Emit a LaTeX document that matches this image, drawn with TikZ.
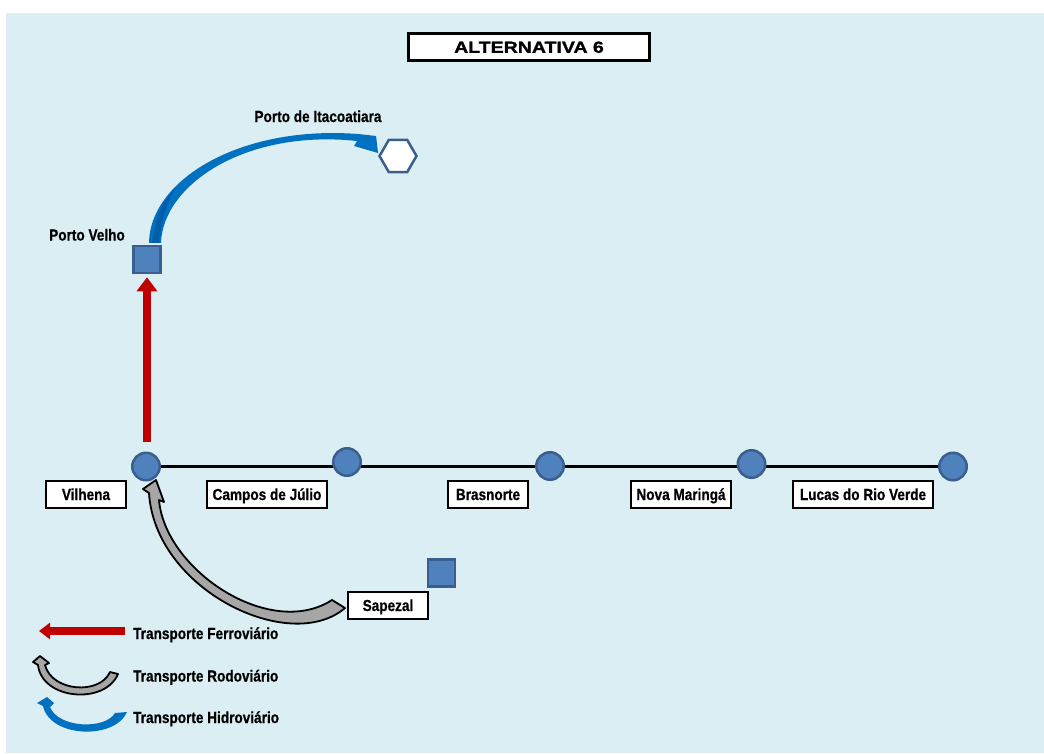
\documentclass[tikz,border=0pt]{standalone}
\usepackage{fontspec}
\setmainfont{Liberation Sans}[FakeStretch=0.85, BoldFeatures={FakeBold=0.6}]
\newfontfamily\titlefont{Liberation Sans}[FakeStretch=1.22, BoldFeatures={FakeBold=1.2}]
\usetikzlibrary{arrows.meta,calc,shapes.geometric,backgrounds}
\definecolor{bgblue}{HTML}{DAEEF3}
\definecolor{nodefill}{HTML}{4F81BD}
\definecolor{nodedraw}{HTML}{3A5F8F}
\definecolor{rail}{HTML}{C00000}
\definecolor{water}{HTML}{0070C0}
\definecolor{waterdark}{HTML}{005FA8}
\definecolor{road}{HTML}{A6A6A6}
\begin{document}
\begin{tikzpicture}[x=1pt,y=-1pt,
  every node/.style={font=\bfseries\fontsize{16}{19}\selectfont, inner sep=0pt},
  city/.style={circle, fill=nodefill, draw=nodedraw, line width=2.5pt, minimum size=27.5pt},
  port/.style={rectangle, fill=nodefill, draw=nodedraw, line width=2.5pt, minimum size=27pt},
  hexport/.style={regular polygon, regular polygon sides=6, fill=white, draw=nodedraw, line width=2.5pt, minimum size=37pt},
  lbl/.style={rectangle, fill=white, draw=black, line width=2pt, minimum height=27pt, text height=11.5pt, text depth=0.5pt},
  titlebox/.style={rectangle, fill=white, draw=black, line width=3pt, minimum width=241pt, minimum height=27pt, text height=11.5pt, text depth=0pt, font=\titlefont\bfseries\fontsize{16}{19}\selectfont},
  railarrow/.style={draw=rail, line width=8pt},
  roadarrow/.style={fill=road, draw=black, line width=1.8pt, line join=round},
  waterarrow/.style={fill=water},
]
% frame
\useasboundingbox (0,0) rectangle (1044,753);

% nodes
\node[titlebox] (title) at (529,47) {ALTERNATIVA 6};

\node[city] (c1) at (146,466.5) {};
\node[city] (c2) at (347,462) {};
\node[city] (c3) at (550,466) {};
\node[city] (c4) at (751.5,464) {};
\node[city] (c5) at (953,466.5) {};

\node[port] (pv) at (147,259.5) {};
\node[port] (sq) at (441.5,573) {};
\node[hexport] (hex) at (398,156) {};

\node[anchor=base] (lpv) at (87,240.5) {Porto Velho};
\node[anchor=base] (lit) at (318,122) {Porto de Itacoatiara};

\node[lbl, minimum width=80pt] (l1) at (86,494.5) {Vilhena};
\node[lbl, minimum width=120pt] (l2) at (267,494.5) {Campos de Júlio};
\node[lbl, minimum width=80pt] (l3) at (488,494.5) {Brasnorte};
\node[lbl, minimum width=100pt] (l4) at (681,494.5) {Nova Maringá};
\node[lbl, minimum width=140pt] (l5) at (863,494.5) {Lucas do Rio Verde};
\node[lbl, minimum width=80pt] (sap) at (388,605.5) {Sapezal};

% background and rail line
\begin{scope}[on background layer]
  \fill[white] (0,0) rectangle (1044,753);
  \fill[bgblue] (6,13) rectangle (1044,753);
  \draw[line width=3pt] (c1.center) -- (c5.center);
\end{scope}

% rail: Vilhena -> Porto Velho
\draw[railarrow, -{Triangle[width=20pt,length=14pt]}] ($(pv.south |- c1.north)+(0,-9.5)$) -- ($(pv.south)+(0,3)$);

% waterway: Porto Velho -> Porto de Itacoatiara
\fill[waterarrow] ($(pv.north)+(2,-2)$)
  .. controls (150,180) and (240,125) .. ($(hex.west)+(-20,-22)$)
  -- ($(hex.west)+(-2,-20)$) -- ($(hex.west)+(0,-3)$) -- ($(hex.west)+(-24,-10)$)
  -- ($(hex.west)+(-21,-15)$)
  .. controls (245,129) and (163,185) .. ($(pv.north)+(14,-2)$) -- cycle;
\fill[waterdark] ($(pv.north)+(5,-2)$) .. controls (156,215) and (163,200) .. (176,188)
  .. controls (166,203) and (162,220) .. ($(pv.north)+(12,-2)$) -- cycle;

% road: Sapezal -> Vilhena
\filldraw[roadarrow] ($(c1.south)+(3,11.5)$) -- ($(c1.south)+(-3,7.5)$)
  -- ($(c1.south)+(10,-1.5)$) -- ($(c1.south)+(18,20.5)$) -- ($(c1.south)+(13,18.5)$)
  .. controls (165,570) and (270,640) .. ($(sap.west)+(-15,-5.5)$)
  -- ($(sap.west)+(-2,2.5)$)
  .. controls (290,655) and (155,590) .. ($(c1.south)+(3,11.5)$) -- cycle;

% legend
\coordinate (lgA) at (125,631);
\coordinate (lgB) at (39,631);
\draw[railarrow, -{Triangle[width=16pt,length=11pt]}] (lgA) -- (lgB);
\node[anchor=base west] (lgf) at (133,639) {Transporte Ferroviário};

\filldraw[roadarrow, line width=1.8pt] (38,665) -- (33,662) -- (40,656) -- (49,663) -- (45,665)
  .. controls (52,692) and (100,695) .. (110,672) -- (118,674)
  .. controls (105,705) and (42,700) .. (38,665) -- cycle;
\node[anchor=base west] (lgr) at (133,681.5) {Transporte Rodoviário};

\fill[waterarrow] (43,706) -- (37,703) -- (47,697) -- (54,703) -- (50,707)
  .. controls (58,728) and (105,730) .. (115,713) -- (127,712)
  .. controls (115,740) and (50,738) .. (43,706) -- cycle;
\node[anchor=base west] (lgh) at (133,723) {Transporte Hidroviário};
\end{tikzpicture}
\end{document}
